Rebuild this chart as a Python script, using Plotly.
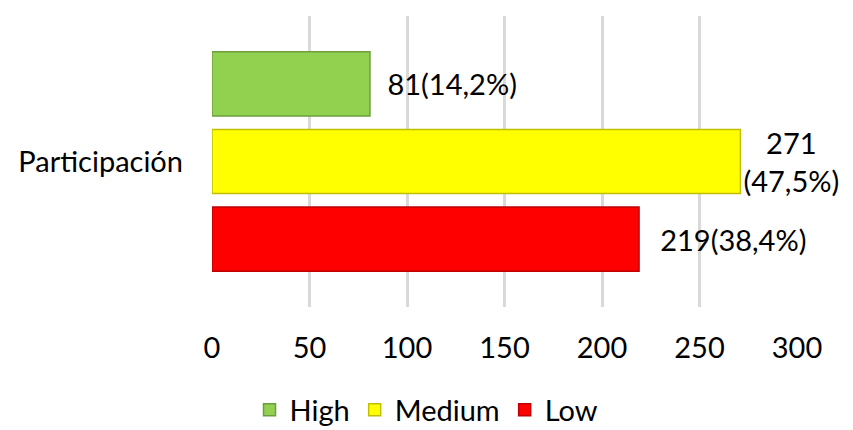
import plotly.graph_objects as go

categories = ["Participación"]
series_names = ["High", "Medium", "Low"]
values = [81, 271, 219]
labels = ["81(14,2%)", "271<br>(47,5%)", "219(38,4%)"]
colors = ["#92D050", "#FFFF00", "#FF0000"]
line_colors = ["#6E9E3C", "#BFBF00", "#BF0000"]
prefix = ["\u2002", "", "\u2002\u2009"]
tick_vals = [0, 50, 100, 150, 200, 250, 300]

FONT = "Lato, Open Sans, sans-serif"
FS = 29

fig = go.Figure()
for name, v, lab, c, lc, p in zip(series_names, values, labels, colors, line_colors, prefix):
    fig.add_trace(go.Bar(
        name=name, y=categories, x=[v], orientation="h",
        marker=dict(color=c, line=dict(color=lc, width=1.5)),
        text=[p + lab], textposition="outside",
        textfont=dict(size=FS, color="#000000", family=FONT),
        cliponaxis=False, constraintext="none",
    ))

fig.update_layout(
    width=853, height=430,
    margin=dict(l=212, r=56, t=16, b=123, autoexpand=False),
    paper_bgcolor="white", plot_bgcolor="white",
    barmode="group", bargap=0.20, bargroupgap=0.174,
    font=dict(family=FONT, size=FS, color="#000000"),
    showlegend=True,
    legend=dict(orientation="h", xref="container", x=0.5, xanchor="center",
                y=-0.354, yanchor="middle",
                font=dict(size=FS), itemwidth=30, traceorder="normal"),
    xaxis=dict(range=[0, 300], tickvals=tick_vals, showgrid=True,
               gridcolor="#D9D9D9", gridwidth=3, zeroline=False, automargin=False,
               showline=False, ticks="", tickfont=dict(size=FS), ticklabelstandoff=21),
    yaxis=dict(autorange="reversed", showline=False, ticks="", showgrid=False,
               automargin=False, tickfont=dict(size=FS), ticklabelstandoff=28),
)

fig.write_html("out.html")
